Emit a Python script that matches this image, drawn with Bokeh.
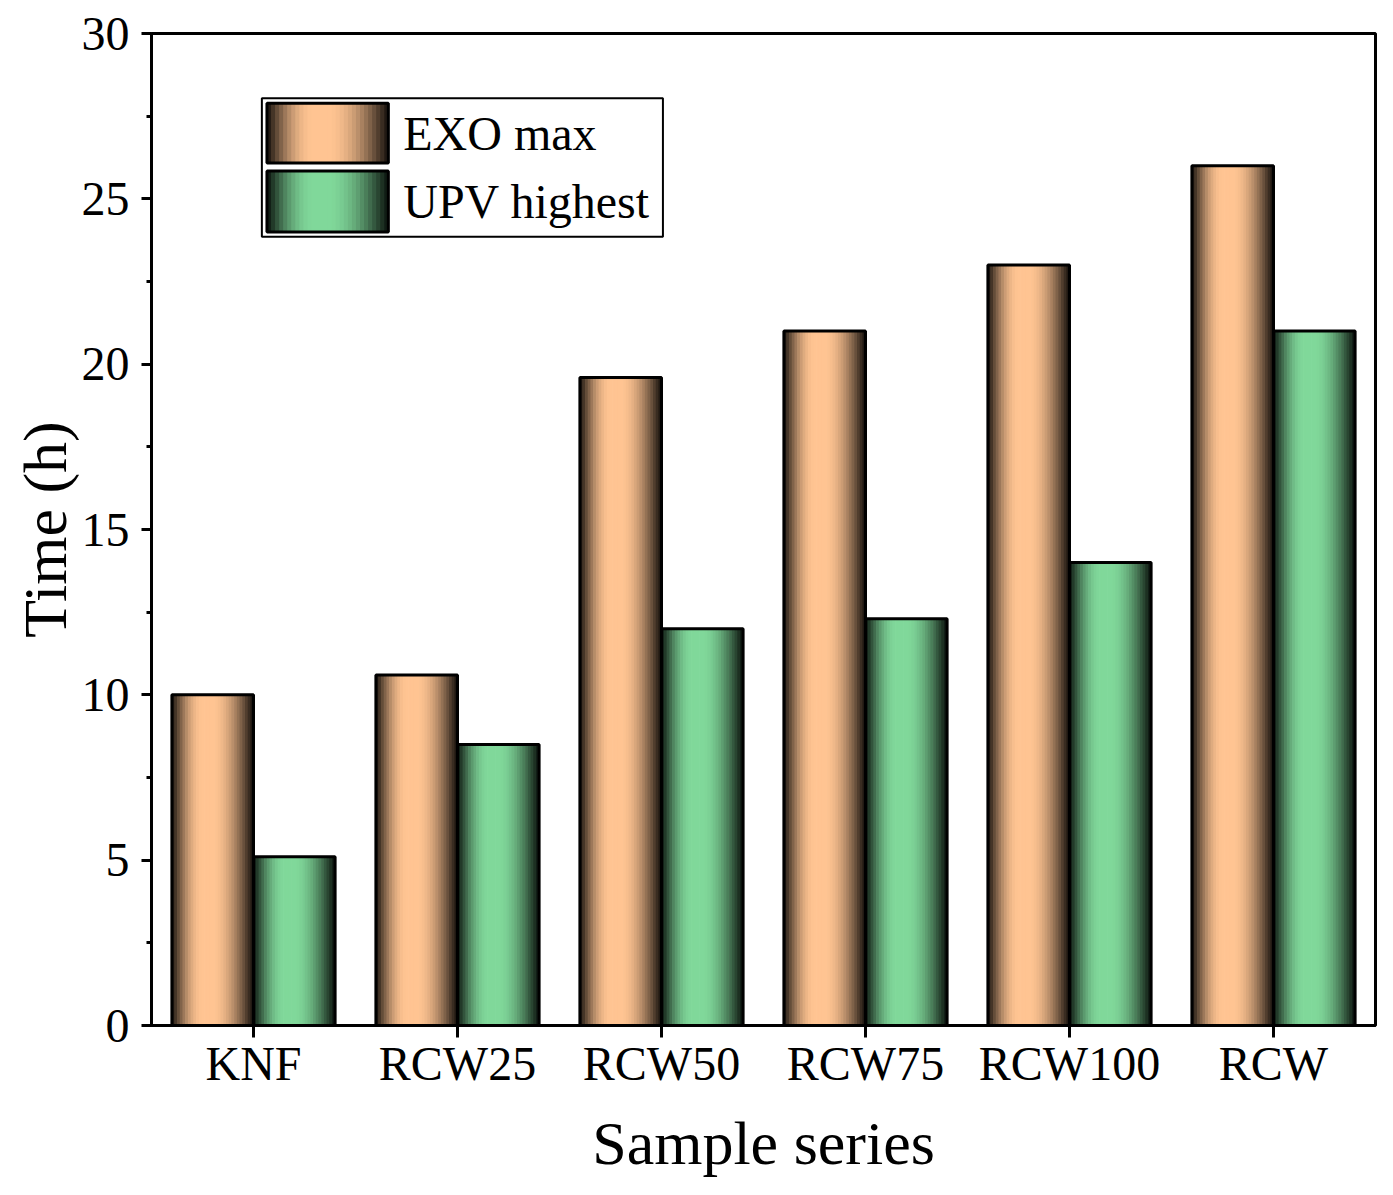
import math
from bokeh.plotting import figure
from bokeh.models import ColumnDataSource, Range1d, SingleIntervalTicker, FactorRange
from bokeh.transform import dodge
from bokeh.core.properties import value
from bokeh.embed import file_html
from bokeh.resources import INLINE

# ---- data ----
categories = ["KNF", "RCW25", "RCW50", "RCW75", "RCW100", "RCW"]
exo_max = [10.0, 10.6, 19.6, 21.0, 23.0, 26.0]
upv_highest = [5.1, 8.5, 12.0, 12.3, 14.0, 21.0]
series_names = ["EXO max", "UPV highest"]
y_ticks_interval = 5

FONT = "Liberation Serif"
EXO_BASE = (255, 196, 146)
UPV_BASE = (128, 216, 154)
NSLICE = 30
BAR_W = 0.4


def shade(t):
    # bevel-like brightness profile across a bar (0=left, 1=right)
    lo = 0.08
    if t < 0.38:
        return lo + (1 - lo) * math.sin(math.pi / 2 * t / 0.38)
    if t < 0.5:
        return 1.0
    return lo + (1 - lo) * math.cos(math.pi / 2 * (t - 0.5) / 0.5)


def col(base, f):
    r, g, b = (int(round(c * f)) for c in base)
    return "#%02x%02x%02x" % (r, g, b)


src = ColumnDataSource(dict(cats=categories, exo=exo_max, upv=upv_highest))

p = figure(
    x_range=FactorRange(factors=categories, range_padding=0),
    y_range=Range1d(0, 30),
    width=1377, height=1179,
    output_backend="svg", toolbar_location=None,
    min_border_left=151, min_border_right=2,
    min_border_top=33, min_border_bottom=152,
)
p.background_fill_color = "white"
p.border_fill_color = "white"
p.xgrid.visible = False
p.ygrid.visible = False
p.outline_line_color = "black"
p.outline_line_width = 3
p.outline_line_alpha = 1.0

# ---- gradient bars as slices ----
sw = BAR_W / NSLICE
for k in range(NSLICE):
    t = (k + 0.5) / NSLICE
    off = (k + 0.5) * sw
    p.vbar(x=dodge("cats", -BAR_W + off, range=p.x_range), top="exo", bottom=0,
           width=sw * 1.25, source=src, fill_color=col(EXO_BASE, shade(t)), line_color=None)
    p.vbar(x=dodge("cats", off, range=p.x_range), top="upv", bottom=0,
           width=sw * 1.25, source=src, fill_color=col(UPV_BASE, shade(t)), line_color=None)

# outlines
p.vbar(x=dodge("cats", -BAR_W / 2, range=p.x_range), top="exo", bottom=0, width=BAR_W,
       source=src, fill_alpha=0, line_color="black", line_width=3)
p.vbar(x=dodge("cats", BAR_W / 2, range=p.x_range), top="upv", bottom=0, width=BAR_W,
       source=src, fill_alpha=0, line_color="black", line_width=3)

# ---- custom legend (gradient swatches) ----
LEG_L, LEG_R, LEG_B, LEG_T = 0.541, 2.507, 23.85, 28.04
SW_L, SW_R = 0.566, 1.161
rows = [(26.08, 27.89, EXO_BASE), (24.0, 25.84, UPV_BASE)]
p.quad(left=[LEG_L], right=[LEG_R], bottom=[LEG_B], top=[LEG_T],
       fill_color="white", line_color="black", line_width=2)
for (b, t_, base) in rows:
    w = (SW_R - SW_L) / NSLICE
    lefts = [SW_L + k * w for k in range(NSLICE)]
    rights = [SW_L + (k + 1) * w + w * 0.25 for k in range(NSLICE)]
    rights[-1] = SW_R
    cols = [col(base, shade((k + 0.5) / NSLICE)) for k in range(NSLICE)]
    p.quad(left=lefts, right=rights, bottom=[b] * NSLICE, top=[t_] * NSLICE,
           fill_color=cols, line_color=None)
    p.quad(left=[SW_L], right=[SW_R], bottom=[b], top=[t_], fill_alpha=0,
           line_color="black", line_width=3)
p.text(x=[1.234, 1.234], y=[(r[0] + r[1]) / 2 for r in rows], text=series_names,
       text_font=value(FONT), text_font_size="48px", text_baseline="middle",
       text_align="left", text_color="black")

# ---- axes ----
p.yaxis.ticker = SingleIntervalTicker(interval=y_ticks_interval, num_minor_ticks=2)
p.yaxis.axis_label = "Time (h)"
p.xaxis.axis_label = "Sample series"
for ax in (p.xaxis, p.yaxis):
    ax.axis_line_width = 3
    ax.axis_line_color = "black"
    ax.major_tick_line_width = 3
    ax.minor_tick_line_width = 3
    ax.major_tick_in = 0
    ax.minor_tick_in = 0
    ax.major_label_text_font = FONT
    ax.major_label_text_font_size = "48px"
    ax.major_label_text_color = "black"
    ax.axis_label_text_font = FONT
    ax.axis_label_text_font_size = "62px"
    ax.axis_label_text_font_style = "normal"
    ax.axis_label_text_color = "black"
p.yaxis.major_tick_out = 10
p.yaxis.minor_tick_out = 5
p.yaxis.major_label_standoff = 12
p.yaxis.axis_label_standoff = 0
p.xaxis.major_tick_out = 12
p.xaxis.major_label_standoff = -1
p.xaxis.axis_label_standoff = 16

open("out.html", "w").write(file_html(p, INLINE))
